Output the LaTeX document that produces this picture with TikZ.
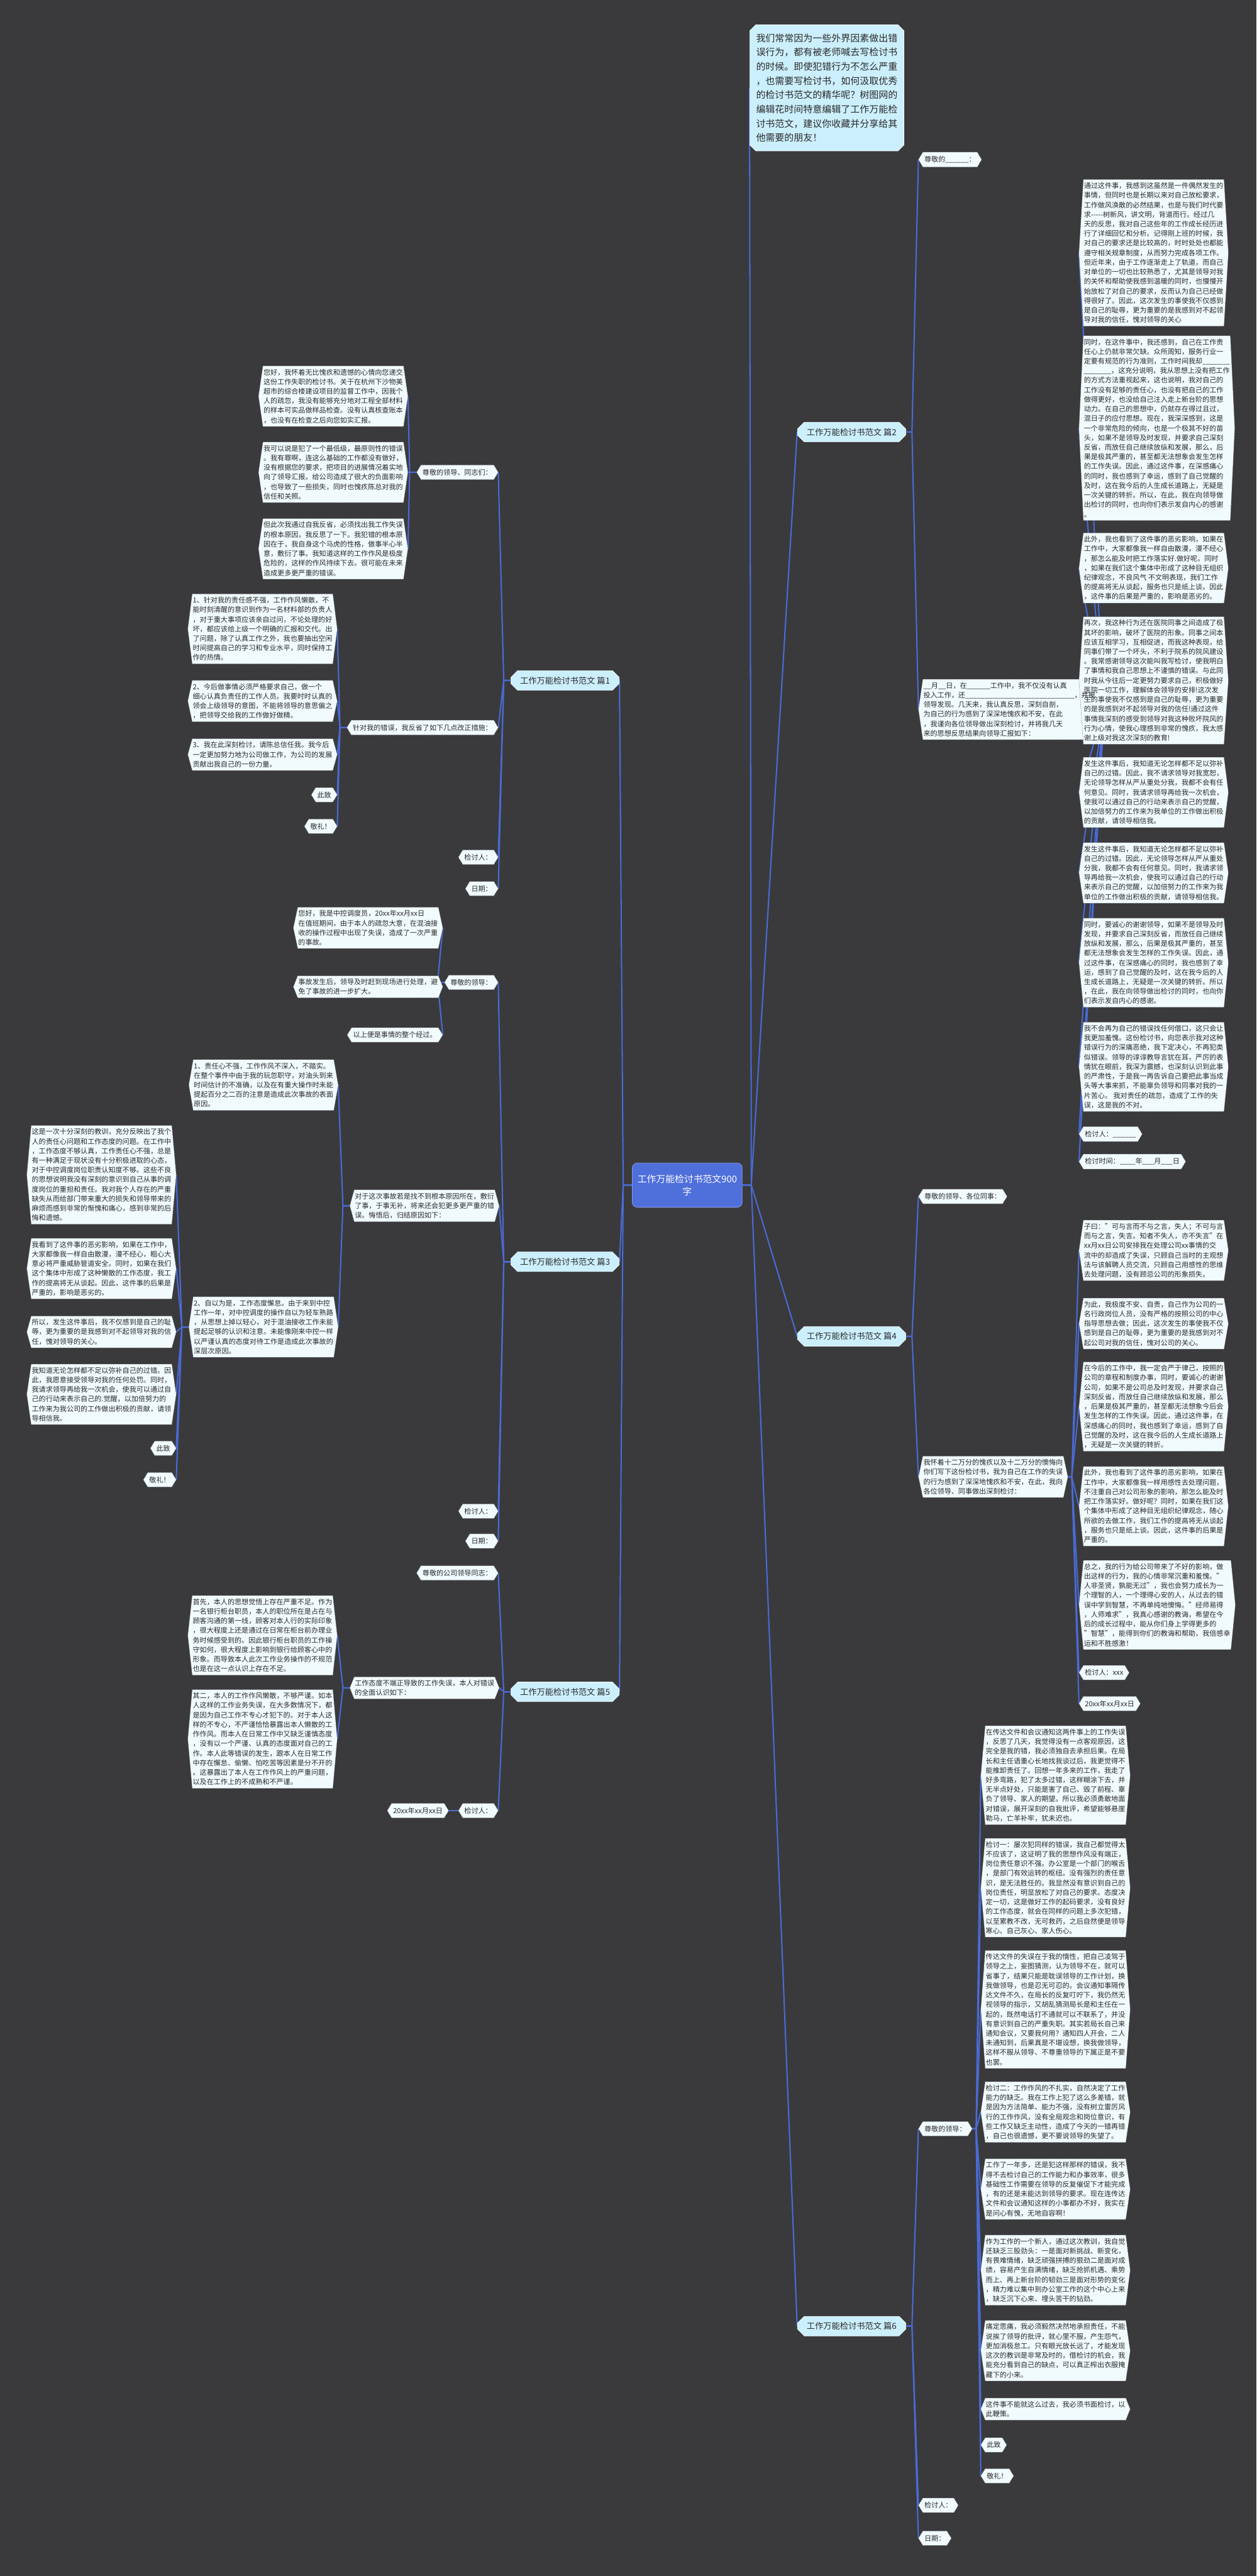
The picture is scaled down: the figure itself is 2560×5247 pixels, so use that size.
\documentclass[tikz,border=0pt]{standalone}
\usepackage{fontspec}
\setmainfont{Noto Sans CJK SC}
\usetikzlibrary{shapes.misc}
\definecolor{bgc}{HTML}{3A3A3C}
\definecolor{linec}{HTML}{4A6BD6}
\definecolor{boxc}{HTML}{F1FAFD}
\definecolor{brc}{HTML}{CBEFFC}
\definecolor{cenc}{HTML}{4F6FDB}
\definecolor{txtc}{HTML}{2A2A2A}
\pgfdeclarelayer{bgl}
\pgfdeclarelayer{lin}
\pgfdeclarelayer{shp}
\pgfsetlayers{bgl,lin,shp,main}
\newcommand\cR[2]{\draw[conn] ([xshift=9pt]#1.east) -- ++(8pt,0) -- ([xshift=-9pt]#2.west);}
\newcommand\cRp[2]{\draw[conn] (#1.east) -- ++(12pt,0) -- ([xshift=-9pt]#2.west);}
\newcommand\cL[2]{\draw[conn] ([xshift=-9pt]#1.west) -- ++(-14pt,0) -- ([xshift=9pt]#2.east);}
\newcommand\cLp[2]{\draw[conn] (#1.west) -- ++(-14pt,0) -- ([xshift=9pt]#2.east);}
\newcommand\hx[1]{\path[hexs] ([xshift=-9pt]#1.west) -- (#1.north west) -- (#1.north east) -- ([xshift=9pt]#1.east) -- (#1.south east) -- (#1.south west) -- cycle;}
\tikzset{
 conn/.style={draw=linec, line width=2.6pt},
 hexs/.style={fill=boxc, draw=black!60, line width=0.7pt, densely dotted},
 tb/.style={font=\fontsize{14.2pt}{19.5pt}\selectfont, align=left, inner xsep=1pt, inner ysep=6pt, text=txtc},
 lb/.style={font=\fontsize{14.2pt}{19.5pt}\selectfont, inner xsep=3pt, inner ysep=8pt, text=txtc},
 pian/.style={chamfered rectangle, chamfered rectangle sep=7pt, fill=brc, draw=white!80!brc, line width=0.8pt,
   font=\fontsize{17pt}{20pt}\selectfont, text=txtc, minimum width=221pt, minimum height=40pt, inner xsep=6pt},
 cen/.style={rectangle, rounded corners=10pt, fill=cenc, draw=cenc!70!white, line width=1pt, text=white,
   font=\fontsize{19pt}{26pt}\selectfont, align=center, minimum width=224pt, minimum height=90pt},
 intr/.style={chamfered rectangle, chamfered rectangle sep=6pt, fill=brc, draw=white!80!brc, line width=0.8pt,
   font=\fontsize{19.2pt}{29pt}\selectfont, align=left, text=txtc, inner xsep=7pt, inner ysep=12pt}
}
\begin{document}
\begin{tikzpicture}[x=1pt,y=-1pt]
\path[use as bounding box] (0,0) rectangle (2560,5247);
\begin{pgfonlayer}{bgl}
\fill[bgc] (0,0) rectangle (2560,5247);
\end{pgfonlayer}

% ---------- centre and intro ----------
\node[cen] (c) at (1400,2414) {工作万能检讨书范文900\\字};
\node[intr,anchor=west] (intro) at (1527,179) {我们常常因为一些外界因素做出错\\误行为，都有被老师喊去写检讨书\\的时候。即使犯错行为不怎么严重\\，也需要写检讨书，如何汲取优秀\\的检讨书范文的精华呢？树图网的\\编辑花时间特意编辑了工作万能检\\讨书范文，建议你收藏并分享给其\\他需要的朋友！};

% ---------- 篇2 ----------
\node[pian,anchor=west] (p2) at (1624,880) {工作万能检讨书范文 篇2};
\node[lb,anchor=west] (p2a) at (1880,325) {尊敬的\_\_\_\_\_\_：};
\node[tb,anchor=west] (p2b) at (1880,1445) {\_\_月\_\_日，在\_\_\_\_\_\_工作中，我不仅没有认真\\投入工作，还\_\_\_\_\_\_\_\_\_\_\_\_\_\_\_\_\_\_\_\_\_\_\_\_\_\_\_\_，并被\\领导发现。几天来，我认真反思，深刻自剖，\\为自己的行为感到了深深地愧疚和不安，在此\\，我谨向各位领导做出深刻检讨，并将我几天\\来的思想反思结果向领导汇报如下：};
\node[tb,anchor=west] (p2b1) at (2207,515) {通过这件事，我感到这虽然是一件偶然发生的\\事情，但同时也是长期以来对自己放松要求，\\工作做风涣散的必然结果，也是与我们时代要\\求-{}-{}-{}-{}-树新风，讲文明，背道而行。经过几\\天的反思，我对自己这些年的工作成长经历进\\行了详细回忆和分析。记得刚上班的时候，我\\对自己的要求还是比较高的，时时处处也都能\\遵守相关规章制度，从而努力完成各项工作。\\但近年来，由于工作逐渐走上了轨道，而自己\\对单位的一切也比较熟悉了，尤其是领导对我\\的关怀和帮助使我感到温暖的同时，也慢慢开\\始放松了对自己的要求，反而认为自己已经做\\得很好了。因此，这次发生的事使我不仅感到\\是自己的耻辱，更为重要的是我感到对不起领\\导对我的信任，愧对领导的关心};
\node[tb,anchor=west] (p2b2) at (2207,872) {同时，在这件事中，我还感到，自己在工作责\\任心上仍就非常欠缺。众所周知，服务行业一\\定要有规范的行为准则，工作时间我却\_\_\_\_\_\_\_\\\_\_\_\_\_\_\_，这充分说明，我从思想上没有把工作\\的方式方法重视起来，这也说明，我对自己的\\工作没有足够的责任心，也没有把自己的工作\\做得更好，也没给自己注入走上新台阶的思想\\动力。在自己的思想中，仍就存在得过且过，\\混日子的应付思想。现在，我深深感到，这是\\一个非常危险的倾向，也是一个极其不好的苗\\头，如果不是领导及时发现，并要求自己深刻\\反省，而放任自己继续放纵和发展，那么，后\\果是极其严重的，甚至都无法想象会发生怎样\\的工作失误。因此，通过这件事，在深感痛心\\的同时，我也感到了幸运，感到了自己觉醒的\\及时，这在我今后的人生成长道路上，无疑是\\一次关键的转折。所以，在此，我在向领导做\\出检讨的同时，也向你们表示发自内心的感谢\\。};
\node[tb,anchor=west] (p2b3) at (2207,1157) {此外，我也看到了这件事的恶劣影响，如果在\\工作中，大家都像我一样自由散漫，漫不经心\\，那怎么能及时把工作落实好.做好呢。同时\\，如果在我们这个集体中形成了这种目无组织\\纪律观念，不良风气 不文明表现，我们工作\\的提高将无从谈起，服务也只是纸上谈。因此\\，这件事的后果是严重的，影响是恶劣的。};
\node[tb,anchor=west] (p2b4) at (2207,1386) {再次，我这种行为还在医院同事之间造成了极\\其坏的影响，破坏了医院的形象。同事之间本\\应该互相学习，互相促进，而我这种表现，给\\同事们带了一个坏头，不利于院系的院风建设\\。我常感谢领导这次能叫我写检讨，使我明白\\了事情和我自己思想上不谨慎的错误。与此同\\时我从今往后一定更努力要求自己，积极做好\\医院一切工作，理解体会领导的安排!这次发\\生的事使我不仅感到是自己的耻辱，更为重要\\的是我感到对不起领导对我的信任!通过这件\\事情我深刻的感受到领导对我这种败坏院风的\\行为心情，使我心理感到非常的愧疚，我太感\\谢上级对我这次深刻的教育!};
\node[tb,anchor=west] (p2b5) at (2207,1614) {发生这件事后，我知道无论怎样都不足以弥补\\自己的过错。因此，我不请求领导对我宽恕，\\无论领导怎样从严从重处分我，我都不会有任\\何意见。同时，我请求领导再给我一次机会，\\使我可以通过自己的行动来表示自己的觉醒，\\以加倍努力的工作来为我单位的工作做出积极\\的贡献，请领导相信我。};
\node[tb,anchor=west] (p2b6) at (2207,1778) {发生这件事后，我知道无论怎样都不足以弥补\\自己的过错。因此，无论领导怎样从严从重处\\分我，我都不会有任何意见。同时，我请求领\\导再给我一次机会，使我可以通过自己的行动\\来表示自己的觉醒，以加倍努力的工作来为我\\单位的工作做出积极的贡献，请领导相信我。};
\node[tb,anchor=west] (p2b7) at (2207,1961) {同时，要诚心的谢谢领导，如果不是领导及时\\发现，并要求自己深刻反省，而放任自己继续\\放纵和发展，那么，后果是极其严重的，甚至\\都无法想象会发生怎样的工作失误。因此，通\\过这件事，在深感痛心的同时，我也感到了幸\\运，感到了自己觉醒的及时，这在我今后的人\\生成长道路上，无疑是一次关键的转折。所以\\，在此，我在向领导做出检讨的同时，也向你\\们表示发自内心的感谢。};
\node[tb,anchor=west] (p2b8) at (2207,2173) {我不会再为自己的错误找任何借口，这只会让\\我更加羞愧。这份检讨书，向您表示我对这种\\错误行为的深痛恶绝，我下定决心，不再犯类\\似错误。领导的谆谆教导言犹在耳，严厉的表\\情犹在眼前，我深为震撼，也深刻认识到此事\\的严肃性，于是我一再告诉自己要把此事当成\\头等大事来抓，不能辜负领导和同事对我的一\\片苦心。 我对责任的疏忽，造成了工作的失\\误，这是我的不对。};
\node[lb,anchor=west] (p2k1) at (2207,2310) {检讨人：\_\_\_\_\_\_};
\node[lb,anchor=west] (p2k2) at (2207,2366) {检讨时间：\_\_\_\_年\_\_\_月\_\_\_日};

% ---------- 篇4 ----------
\node[pian,anchor=west] (p4) at (1624,2722) {工作万能检讨书范文 篇4};
\node[lb,anchor=west] (p4a) at (1880,2437) {尊敬的领导、各位同事：};
\node[tb,anchor=west] (p4b) at (1880,3008) {我怀着十二万分的愧疚以及十二万分的懊悔向\\你们写下这份检讨书，我为自己在工作的失误\\的行为感到了深深地愧疚和不安，在此，我向\\各位领导、同事做出深刻检讨：};
\node[tb,anchor=west] (p4b1) at (2207,2547) {子曰："可与言而不与之言，失人；不可与言\\而与之言，失言。知者不失人，亦不失言"在\\xx月xx日公司安排我在处理公司xx事情的交\\流中的却造成了失误，只顾自己当时的主观想\\法与该解聘人员交流，只顾自己用感性的思维\\去处理问题，没有顾忌公司的形象损失。};
\node[tb,anchor=west] (p4b2) at (2207,2696) {为此，我极度不安、自责，自己作为公司的一\\名行政岗位人员，没有严格的按照公司的中心\\指导思想去做；因此，这次发生的事使我不仅\\感到是自己的耻辱，更为重要的是我感到对不\\起公司对我的信任，愧对公司的关心。};
\node[tb,anchor=west] (p4b3) at (2207,2865) {在今后的工作中，我一定会严于律己，按照的\\公司的章程和制度办事，同时，要诚心的谢谢\\公司，如果不是公司总及时发现，并要求自己\\深刻反省，而放任自己继续放纵和发展，那么\\，后果是极其严重的，甚至都无法想象今后会\\发生怎样的工作失误。因此，通过这件事，在\\深感痛心的同时，我也感到了幸运，感到了自\\己觉醒的及时，这在我今后的人生成长道路上\\，无疑是一次关键的转折。};
\node[tb,anchor=west] (p4b4) at (2207,3068) {此外，我也看到了这件事的恶劣影响，如果在\\工作中，大家都像我一样用感性去处理问题，\\不注重自己对公司形象的影响，那怎么能及时\\把工作落实好。做好呢？同时，如果在我们这\\个集体中形成了这种目无组织纪律观念，随心\\所欲的去做工作，我们工作的提高将无从谈起\\，服务也只是纸上谈。因此，这件事的后果是\\严重的。};
\node[tb,anchor=west] (p4b5) at (2207,3269) {总之，我的行为给公司带来了不好的影响，做\\出这样的行为，我的心情非常沉重和羞愧。"\\人非圣贤，孰能无过"，我也会努力成长为一\\个理智的人，一个理得心安的人，从过去的错\\误中学到智慧，不再单纯地懊悔。"经师易得\\，人师难求"，我真心感谢的教诲，希望在今\\后的成长过程中，能从你们身上学得更多的\\"智慧"，能得到你们的教诲和帮助，我倍感幸\\运和不胜感激！};
\node[lb,anchor=west] (p4k1) at (2207,3407) {检讨人：xxx};
\node[lb,anchor=west] (p4k2) at (2207,3470) {20xx年xx月xx日};

% ---------- 篇6 ----------
\node[pian,anchor=west] (p6) at (1624,4738) {工作万能检讨书范文 篇6};
\node[lb,anchor=west] (p6a) at (1880,4336) {尊敬的领导：};
\node[tb,anchor=west] (p6a1) at (2007,3616) {在传达文件和会议通知这两件事上的工作失误\\，反思了几天，我觉得没有一点客观原因，这\\完全是我的错，我必须独自去承担后果。在局\\长和主任语重心长地找我谈过后，我更觉得不\\能推卸责任了。回想一年多来的工作，我走了\\好多弯路，犯了太多过错，这样糊涂下去，并\\无半点好处，只能是害了自己、毁了前程、辜\\负了领导、家人的期望。所以我必须勇敢地面\\对错误，展开深刻的自我批评，希望能够悬崖\\勒马，亡羊补牢，犹未迟也。};
\node[tb,anchor=west] (p6a2) at (2007,3845) {检讨一：屡次犯同样的错误，我自己都觉得太\\不应该了，这证明了我的思想作风没有端正，\\岗位责任意识不强。办公室是一个部门的喉舌\\，是部门有效运转的枢纽。没有强烈的责任意\\识，是无法胜任的。我显然没有意识到自己的\\岗位责任，明显放松了对自己的要求。态度决\\定一切，这是做好工作的起码要求，没有良好\\的工作态度，就会在同样的问题上多次犯错，\\以至累教不改，无可救药，之后自然便是领导\\寒心、自己灰心、家人伤心。};
\node[tb,anchor=west] (p6a3) at (2007,4093) {传达文件的失误在于我的惰性，把自己凌驾于\\领导之上，妄图猜测，认为领导不在，就可以\\省事了，结果只能是耽误领导的工作计划，换\\我做领导，也是忍无可忍的。会议通知事隔传\\达文件不久，在局长的反复叮咛下，我仍然无\\视领导的指示，又胡乱猜测局长是和主任在一\\起的，既然电话打不通就可以不联系了，并没\\有意识到自己的严重失职。其实若局长自己来\\通知会议，又要我何用？通知四人开会，二人\\未通知到，后果真是不堪设想，换我做领导，\\这样不服从领导、不尊重领导的下属正是不要\\也罢。};
\node[tb,anchor=west] (p6a4) at (2007,4302) {检讨二：工作作风的不扎实，自然决定了工作\\能力的缺乏。我在工作上犯了这么多差错，就\\是因为方法简单、能力不强，没有树立雷厉风\\行的工作作风，没有全局观念和岗位意识，有\\些工作又缺乏主动性，造成了今天的一错再错\\，自己也很遗憾，更不要说领导的失望了。};
\node[tb,anchor=west] (p6a5) at (2007,4459) {工作了一年多，还是犯这样那样的错误，我不\\得不去检讨自己的工作能力和办事效率，很多\\基础性工作需要在领导的反复催促下才能完成\\，有的还是未能达到领导的要求。现在连传达\\文件和会议通知这样的小事都办不好，我实在\\是问心有愧，无地自容啊！};
\node[tb,anchor=west] (p6a6) at (2007,4624) {作为工作的一个新人，通过这次教训，我自觉\\还缺乏三股劲头：一是面对新挑战、新变化，\\有畏难情绪，缺乏顽强拼搏的狠劲二是面对成\\绩，容易产生自满情绪，缺乏抢抓机遇、乘势\\而上、再上新台阶的韧劲三是面对形势的变化\\，精力难以集中到办公室工作的这个中心上来\\，缺乏沉下心来、埋头苦干的钻劲。};
\node[tb,anchor=west] (p6a7) at (2007,4788) {痛定思痛，我必须毅然决然地承担责任，不能\\说挨了领导的批评，就心里不服，产生怨气，\\更加消极怠工。只有眼光放长远了，才能发现\\这次的教训是非常及时的，借检讨的机会，我\\能充分看到自己的缺点，可以真正榨出衣服掩\\藏下的小来。};
\node[tb,anchor=west] (p6a8) at (2007,4907) {这件事不能就这么过去，我必须书面检讨，以\\此鞭策。};
\node[lb,anchor=west] (p6z1) at (2007,4980) {此致};
\node[lb,anchor=west] (p6z2) at (2007,5043) {敬礼！};
\node[lb,anchor=west] (p6k1) at (1880,5103) {检讨人：};
\node[lb,anchor=west] (p6k2) at (1880,5170) {日期：};

% ---------- 篇1 ----------
\node[pian,anchor=east] (p1) at (1262,1386) {工作万能检讨书范文 篇1};
\node[lb,anchor=east] (p1a) at (1006,962) {尊敬的领导、同志们：};
\node[tb,anchor=east] (p1a1) at (822,807) {您好，我怀着无比愧疚和遗憾的心情向您递交\\这份工作失职的检讨书。关于在杭州下沙物美\\超市的综合楼建设项目的监督工作中，因我个\\人的疏忽，我没有能够充分地对工程全部材料\\的样本可实品做样品检查。没有认真核查账本\\，也没有在检查之后向您如实汇报。};
\node[tb,anchor=east] (p1a2) at (822,962) {我可以说是犯了一个最低级，最原则性的错误\\。我有罪啊，连这么基础的工作都没有做好，\\没有根据您的要求，把项目的进展情况着实地\\向了领导汇报。给公司造成了很大的负面影响\\，也导致了一些损失，同时也愧疚陈总对我的\\信任和关照。};
\node[tb,anchor=east] (p1a3) at (822,1118) {但此次我通过自我反省，必须找出我工作失误\\的根本原因，我反思了一下。我犯错的根本原\\因在于，我自身这个马虎的性格，做事半心半\\意，敷衍了事。我知道这样的工作作风是极度\\危险的，这样的作风持续下去。很可能在未来\\造成更多更严重的错误。};
\node[lb,anchor=east] (p1b) at (1006,1482) {针对我的错误，我反省了如下几点改正措施：};
\node[tb,anchor=east] (p1b1) at (678,1281) {1、针对我的责任感不强，工作作风懒散，不\\能时刻清醒的意识到作为一名材料部的负责人\\，对于重大事项应该亲自过问，不论处理的好\\坏，都应该给上级一个明确的汇报和交代。出\\了问题，除了认真工作之外，我也要抽出空闲\\时间提高自己的学习和专业水平，同时保持工\\作的热情。};
\node[tb,anchor=east] (p1b2) at (678,1428) {2、今后做事情必须严格要求自己，做一个\\细心认真负责任的工作人员。我要时时认真的\\领会上级领导的意图，不能将领导的意思偏之\\，把领导交给我的工作做好做精。};
\node[tb,anchor=east] (p1b3) at (678,1537) {3、我在此深刻检讨，请陈总信任我。我今后\\一定更加努力地为公司做工作，为公司的发展\\贡献出我自己的一份力量。};
\node[lb,anchor=east] (p1z1) at (678,1619) {此致};
\node[lb,anchor=east] (p1z2) at (678,1683) {敬礼！};
\node[lb,anchor=east] (p1k1) at (1006,1746) {检讨人：};
\node[lb,anchor=east] (p1k2) at (1006,1810) {日期：};

% ---------- 篇3 ----------
\node[pian,anchor=east] (p3) at (1262,2570) {工作万能检讨书范文 篇3};
\node[lb,anchor=east] (p3a) at (1006,2001) {尊敬的领导：};
\node[tb,anchor=east] (p3a1) at (893,1890) {您好，我是中控调度员，20xx年xx月xx日\\在值班期间，由于本人的疏忽大意，在混油接\\收的操作过程中出现了失误，造成了一次严重\\的事故。};
\node[tb,anchor=east] (p3a2) at (893,2010) {事故发生后，领导及时赶到现场进行处理，避\\免了事故的进一步扩大。};
\node[lb,anchor=east] (p3a3) at (893,2108) {以上便是事情的整个经过。};
\node[tb,anchor=east] (p3b) at (1008,2456) {对于这次事故若是找不到根本原因所在，敷衍\\了事，于事无补，将来还会犯更多更严重的错\\误。悔悟后，归结原因如下：};
\node[tb,anchor=east] (p3b1) at (680,2210) {1、责任心不强，工作作风不深入，不踏实。\\在整个事件中由于我的玩忽职守，对油头到来\\时间估计的不准确，以及在有重大操作时未能\\提起百分之二百的注意是造成此次事故的表面\\原因。};
\node[tb,anchor=east] (p3b2) at (680,2703) {2、自以为是，工作态度懈怠。由于来到中控\\工作一年，对中控调度的操作自以为轻车熟路\\，从思想上掉以轻心，对于混油接收工作未能\\提起足够的认识和注意。未能像刚来中控一样\\以严谨认真的态度对待工作是造成此次事故的\\深层次原因。};
\node[tb,anchor=east] (p3c1) at (350,2393) {这是一次十分深刻的教训，充分反映出了我个\\人的责任心问题和工作态度的问题。在工作中\\，工作态度不够认真，工作责任心不强，总是\\有一种满足于现状没有十分积极进取的心态，\\对于中控调度岗位职责认知度不够。这些不良\\的思想说明我没有深刻的意识到自己从事的调\\度岗位的重担和责任。我对我个人存在的严重\\缺失从而给部门带来重大的损失和领导带来的\\麻烦而感到非常的惭愧和痛心，感到非常的后\\悔和遗憾。};
\node[tb,anchor=east] (p3c2) at (350,2584) {我看到了这件事的恶劣影响，如果在工作中，\\大家都像我一样自由散漫，漫不经心，粗心大\\意必将严重威胁管道安全。同时，如果在我们\\这个集体中形成了这种懒散的工作态度，我工\\作的提高将无从谈起。因此，这件事的后果是\\严重的，影响是恶劣的。};
\node[tb,anchor=east] (p3c3) at (350,2713) {所以，发生这件事后，我不仅感到是自己的耻\\辱，更为重要的是我感到对不起领导对我的信\\任，愧对领导的关心。};
\node[tb,anchor=east] (p3c4) at (350,2840) {我知道无论怎样都不足以弥补自己的过错。因\\此，我愿意接受领导对我的任何处罚。同时，\\我请求领导再给我一次机会，使我可以通过自\\己的行动来表示自己的.觉醒，以加倍努力的\\工作来为我公司的工作做出积极的贡献，请领\\导相信我。};
\node[lb,anchor=east] (p3z1) at (350,2950) {此致};
\node[lb,anchor=east] (p3z2) at (350,3014) {敬礼！};
\node[lb,anchor=east] (p3k1) at (1006,3078) {检讨人：};
\node[lb,anchor=east] (p3k2) at (1006,3139) {日期：};

% ---------- 篇5 ----------
\node[pian,anchor=east] (p5) at (1262,3446) {工作万能检讨书范文 篇5};
\node[lb,anchor=east] (p5a) at (1006,3204) {尊敬的公司领导同志：};
\node[tb,anchor=east] (p5b) at (1008,3438) {工作态度不端正导致的工作失误，本人对错误\\的全面认识如下：};
\node[tb,anchor=east] (p5b1) at (678,3331) {首先，本人的思想觉悟上存在严重不足。作为\\一名银行柜台职员，本人的职位所在是占在与\\顾客沟通的第一线，顾客对本人行的实际印象\\，很大程度上还是通过在日常在柜台前办理业\\务时候感受到的。因此银行柜台职员的工作操\\守如何，很大程度上影响到银行给顾客心中的\\形象。而导致本人此次工作业务操作的不规范\\也是在这一点认识上存在不足。};
\node[tb,anchor=east] (p5b2) at (678,3542) {其二，本人的工作作风懒散，不够严谨。如本\\人这样的工作业务失误，在大多数情况下，都\\是因为自己工作不专心才犯下的。对于本人这\\样的不专心，不严谨恰恰暴露出本人懒散的工\\作作风。而本人在日常工作中又缺乏谨慎态度\\，没有以一个严谨、认真的态度面对自己的工\\作。本人此等错误的发生，跟本人在日常工作\\中存在懈怠、偷懒、怕吃苦等因素是分不开的\\。这暴露出了本人在工作作风上的严重问题，\\以及在工作上的不成熟和不严谨。};
\node[lb,anchor=east] (p5k1) at (1006,3688) {检讨人：};
\node[lb,anchor=east] (p5k2) at (905,3688) {20xx年xx月xx日};

% ---------- hexagon boxes ----------
\begin{pgfonlayer}{shp}
\foreach \n in {p2a,p2b,p2b1,p2b2,p2b3,p2b4,p2b5,p2b6,p2b7,p2b8,p2k1,p2k2,
  p4a,p4b,p4b1,p4b2,p4b3,p4b4,p4b5,p4k1,p4k2,
  p6a,p6a1,p6a2,p6a3,p6a4,p6a5,p6a6,p6a7,p6a8,p6z1,p6z2,p6k1,p6k2,
  p1a,p1a1,p1a2,p1a3,p1b,p1b1,p1b2,p1b3,p1z1,p1z2,p1k1,p1k2,
  p3a,p3a1,p3a2,p3a3,p3b,p3b1,p3b2,p3c1,p3c2,p3c3,p3c4,p3z1,p3z2,p3k1,p3k2,
  p5a,p5b,p5b1,p5b2,p5k1,p5k2}{\hx{\n}}
\end{pgfonlayer}

% ---------- connectors ----------
\begin{pgfonlayer}{lin}
\draw[conn] (c.east) -- ++(18pt,0) -- (intro.west);
\foreach \p in {p2,p4,p6}{\draw[conn] (c.east) -- ++(18pt,0) -- (\p.west);}
\foreach \p in {p1,p3,p5}{\draw[conn] (c.west) -- ++(-18pt,0) -- (\p.east);}
\cRp{p2}{p2a}\cRp{p2}{p2b}
\foreach \k in {p2b1,p2b2,p2b3,p2b4,p2b5,p2b6,p2b7,p2b8,p2k1,p2k2}{\cR{p2b}{\k}}
\cRp{p4}{p4a}\cRp{p4}{p4b}
\foreach \k in {p4b1,p4b2,p4b3,p4b4,p4b5,p4k1,p4k2}{\cR{p4b}{\k}}
\cRp{p6}{p6a}\cRp{p6}{p6k1}\cRp{p6}{p6k2}
\foreach \k in {p6a1,p6a2,p6a3,p6a4,p6a5,p6a6,p6a7,p6a8,p6z1,p6z2}{\cR{p6a}{\k}}
\cLp{p1}{p1a}\cLp{p1}{p1b}\cLp{p1}{p1k1}\cLp{p1}{p1k2}
\foreach \k in {p1a1,p1a2,p1a3}{\cL{p1a}{\k}}
\foreach \k in {p1b1,p1b2,p1b3,p1z1,p1z2}{\cL{p1b}{\k}}
\cLp{p3}{p3a}\cLp{p3}{p3b}\cLp{p3}{p3k1}\cLp{p3}{p3k2}
\foreach \k in {p3a1,p3a2,p3a3}{\cL{p3a}{\k}}
\foreach \k in {p3b1,p3b2}{\cL{p3b}{\k}}
\foreach \k in {p3c1,p3c2,p3c3,p3c4,p3z1,p3z2}{\cL{p3b2}{\k}}
\cLp{p5}{p5a}\cLp{p5}{p5b}\cLp{p5}{p5k1}
\foreach \k in {p5b1,p5b2}{\cL{p5b}{\k}}
\cL{p5k1}{p5k2}
\end{pgfonlayer}
\end{tikzpicture}
\end{document}
